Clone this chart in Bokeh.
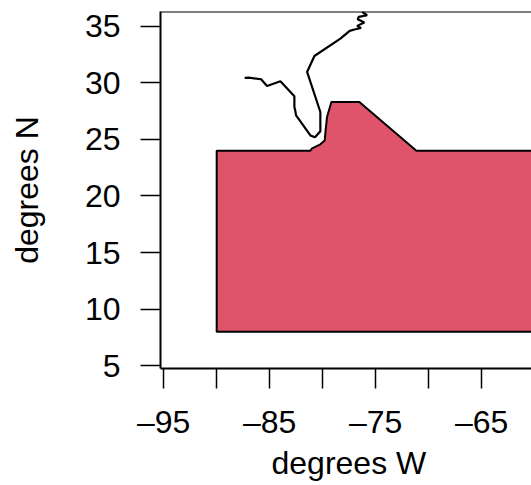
from bokeh.embed import file_html
from bokeh.models import FixedTicker, Range1d, Span, Title
from bokeh.plotting import figure
from bokeh.resources import INLINE

x_ticks = [-95, -90, -85, -80, -75, -70, -65]
x_labels = {-95: "–95", -90: "", -85: "–85", -80: "", -75: "–75", -70: "", -65: "–65"}
y_ticks = [5, 10, 15, 20, 25, 30, 35]

coast_lon = [-87.36, -86.98, -85.81, -85.25, -83.99, -82.67, -82.67, -82.6, -82.51, -81.16, -80.72,
             -80.22, -80.22, -81.47, -80.78, -78.33, -77.45, -76.91, -76.38, -76.75, -76.07,
             -76.7, -76.6, -75.81, -76.28]
coast_lat = [30.43, 30.46, 30.31, 29.72, 30.13, 28.81, 27.86, 27.6, 27.12, 25.35, 25.18,
             25.71, 27.42, 30.96, 32.37, 33.9, 34.59, 34.73, 34.85, 35.03, 35.33,
             35.62, 35.82, 35.97, 36.26]

region_lon = [-90, -81.16, -81.0, -80.22, -79.81, -79.74, -79.59, -79.18, -76.54, -71.16, -50, -50, -90]
region_lat = [24, 24, 24.2, 24.56, 24.9, 25.65, 26.97, 28.3, 28.3, 24, 24, 8, 8]

FONT = "Liberation Sans"
TICK_SIZE = "32px"

p = figure(width=531, height=485, output_backend="svg", toolbar_location=None,
           x_range=Range1d(-95.3, -60.3), y_range=Range1d(4.75, 36.3),
           min_border_left=160, min_border_right=0, min_border_top=11, min_border_bottom=117,
           y_axis_label="degrees N")
p.grid.visible = False
p.outline_line_color = None
p.background_fill_color = "white"
p.border_fill_color = "white"

p.patch(region_lon, region_lat, fill_color="#DF536B", line_color="black", line_width=2)
p.line(coast_lon, coast_lat, line_color="black", line_width=2.2)
p.add_layout(Span(location=36.3, dimension="width", line_color="black", line_width=2))
p.add_layout(Title(text="degrees W", align="left", offset=111, standoff=0,
                   text_font=FONT, text_font_size=TICK_SIZE, text_font_style="normal",
                   text_color="black"), "below")

for ax, ticks in ((p.xaxis[0], x_ticks), (p.yaxis[0], y_ticks)):
    ax.ticker = FixedTicker(ticks=ticks)
    ax.minor_tick_line_color = None
    ax.major_tick_in = 0
    ax.major_tick_out = 20
    ax.major_tick_line_width = 1.5
    ax.major_tick_line_color = "black"
    ax.axis_line_width = 2
    ax.axis_line_color = "black"
    ax.major_label_text_font = FONT
    ax.major_label_text_font_size = TICK_SIZE
    ax.major_label_text_color = "black"
    ax.axis_label_text_font = FONT
    ax.axis_label_text_font_size = TICK_SIZE
    ax.axis_label_text_font_style = "normal"
    ax.axis_label_text_color = "black"

p.xaxis[0].major_label_overrides = x_labels
p.xaxis[0].major_label_standoff = 15
p.yaxis[0].major_label_standoff = 20
p.yaxis[0].axis_label_standoff = 37

open("out.html", "w").write(file_html(p, INLINE))
